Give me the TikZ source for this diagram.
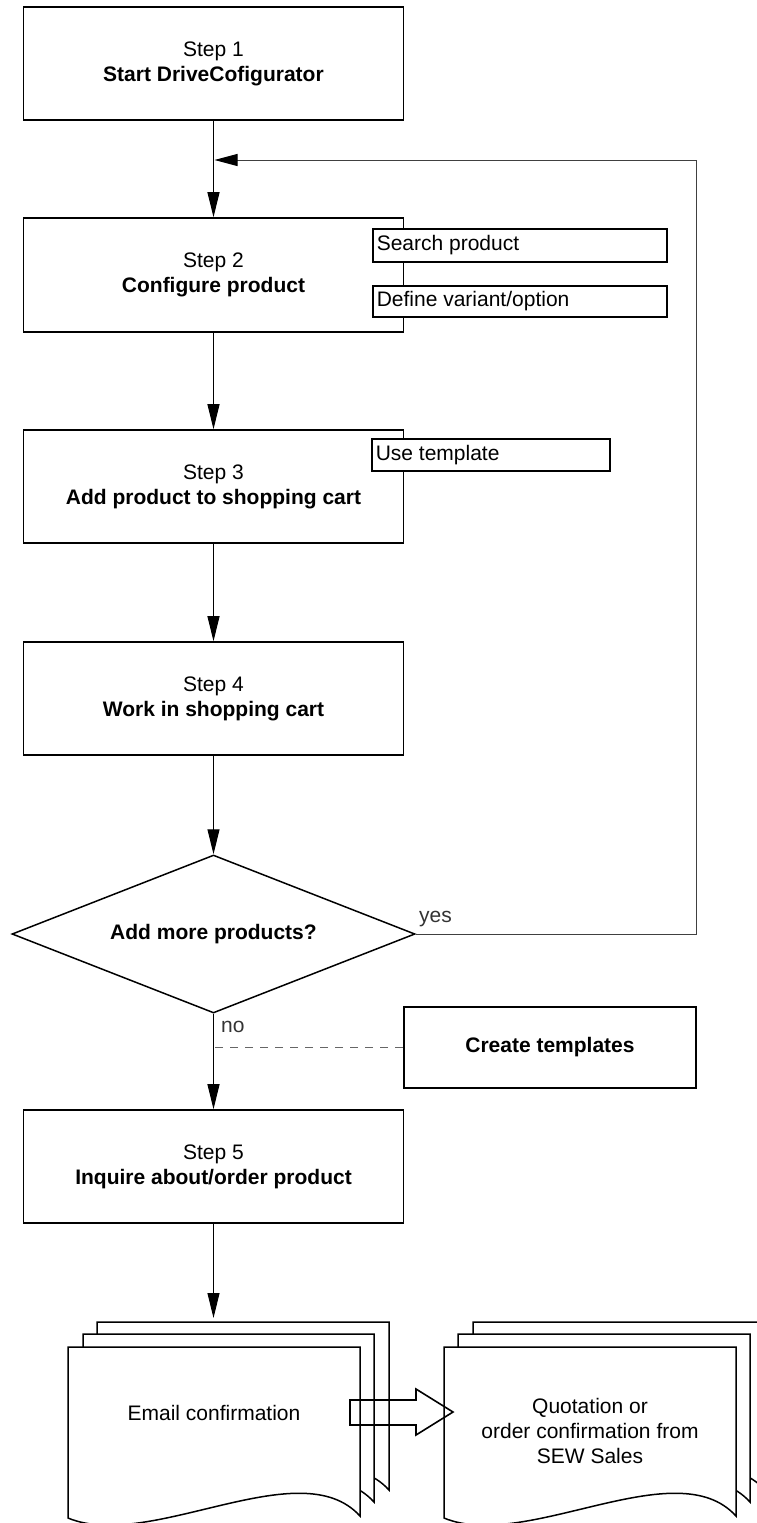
\documentclass[tikz,border=0pt]{standalone}
\usepackage{fontspec}
\setmainfont{Liberation Sans}
\usetikzlibrary{arrows.meta,shapes.geometric}
\newcommand{\docshape}[4]{% L, T, R, B
  \filldraw[docline] (#1,#2) -- (#3,#2) -- (#3,#4)
    .. controls ({#3-60},{#4-66}) and ({#1+82},{#4+36}) .. (#1,{#4+2}) -- cycle;}
\newcommand{\sidetext}[2]{\makebox[#1][l]{#2}}
\begin{document}
\begin{tikzpicture}[x=1pt,y=-1pt,
  every node/.style={font=\fontsize{21}{25}\selectfont},
  stepbox/.style={draw, line width=1.6pt, fill=white, minimum width=380pt, minimum height=113pt, align=center, inner sep=0pt},
  sidebox/.style={draw, line width=1.6pt, fill=white, anchor=west, inner xsep=4pt, inner ysep=0pt},
  decision/.style={diamond, draw, line width=1.5pt, fill=white, minimum width=403pt, minimum height=158pt, inner sep=0pt, aspect=2.55},
  conn/.style={line width=1pt, black},
  arr/.style={conn, -{Triangle[length=25pt,width=12pt]}},
  loopline/.style={line width=1pt, black!75},
  lbl/.style={inner sep=0pt, text=black!80, anchor=west},
  docline/.style={line width=1.5pt, fill=white, draw=black},
  blockarrow/.style={line width=1.6pt, draw=black, line join=miter}
]
\useasboundingbox (0,0) rectangle (756,1523);

% main step boxes
\node[stepbox] (s1) at (213.5,63.5) {Step 1\\\textbf{Start DriveCofigurator}};
\node[stepbox, minimum height=114pt] (s2) at (213.5,275) {Step 2\\\textbf{Configure product}};
\node[stepbox] (s3) at (213.5,486.5) {Step 3\\\textbf{Add product to shopping cart}};
\node[stepbox] (s4) at (213.5,698.5) {Step 4\\\textbf{Work in shopping cart}};
\node[decision] (dec) at (213.5,934) {\textbf{Add more products?}};
\node[stepbox] (s5) at (213.5,1166.5) {Step 5\\\textbf{Inquire about/order product}};

% side boxes
\node[sidebox, minimum height=33pt] (search) at (372,245.5) {\sidetext{286pt}{Search product}};
\node[sidebox, minimum height=31pt] (variant) at (372,301.5) {\sidetext{286pt}{Define variant/option}};
\node[sidebox, minimum height=32pt] (templ) at (371,455) {\sidetext{230pt}{Use template}};

% create templates
\node[draw, line width=1.6pt, fill=white, minimum width=292pt, minimum height=81pt, inner sep=0pt] (create) at (550,1047.5) {\textbf{Create templates}};

% connectors
\draw[arr] (s1.south) -- (s2.north);
\draw[arr] (s2.south) -- (s3.north);
\draw[arr] (s3.south) -- (s4.north);
\draw[arr] (s4.south) -- (dec.north);
\draw[arr] (dec.south) -- (s5.north);

\coordinate (loopR) at (696,160);
\coordinate (loopIn) at (214.5,160);
\draw[loopline, -{Triangle[length=23pt,width=12pt,color=black]}] (dec.east) -| (loopR) -- (loopIn);
\node[lbl] (yes) at (419,919) {yes};
\node[lbl] (no) at (221,1027) {no};
\draw[line width=1pt, black!60, dash pattern=on 8pt off 7pt] (create.west) -- (create.west -| dec.south);

% documents (left stack)
\docshape{97}{1322}{389}{1490}
\docshape{83}{1334}{374}{1502}
\docshape{68}{1347}{360}{1516}
% documents (right stack)
\docshape{473}{1322}{765}{1490}
\docshape{458}{1334}{750}{1502}
\docshape{444}{1347}{736}{1516}

\node (email) at (214,1413) {Email confirmation};
\node[align=center] (quote) at (590,1431) {Quotation or\\order confirmation from\\SEW Sales};

\coordinate (emailtop) at (213.5,1318);
\draw[arr] (s5.south) -- (emailtop);

% block arrow
\draw[blockarrow] (350,1400) -- (416,1400) -- (416,1389) -- (453,1412) -- (416,1435) -- (416,1425) -- (350,1425) -- cycle;
\end{tikzpicture}
\end{document}
